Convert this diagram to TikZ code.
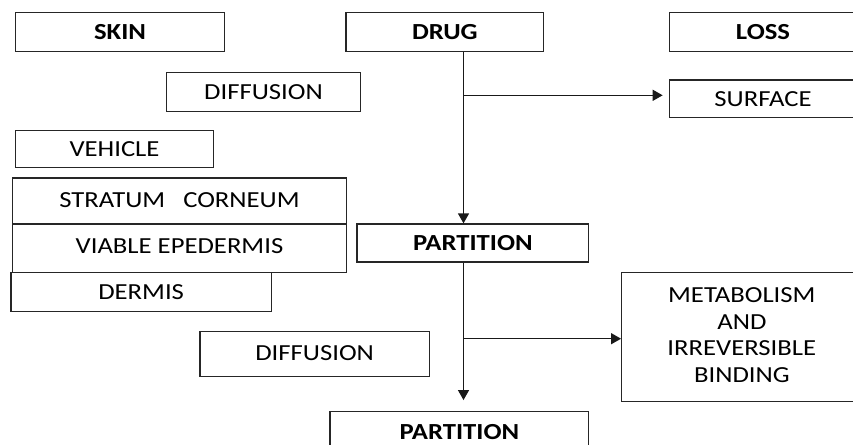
\documentclass[tikz,border=0pt]{standalone}
\usepackage{fontspec}
\setmainfont{Carlito}
\usetikzlibrary{arrows.meta}
\newcommand\wide[1]{\scalebox{1.16}[1]{#1}}
\begin{document}
\begin{tikzpicture}[x=1pt,y=-1pt,
  box/.style={draw=black!85, line width=1.3pt, inner sep=0pt, align=center,
    font=\fontsize{23}{26.5}\selectfont},
  arr/.style={-{Triangle[length=10pt,width=11pt]}, line width=1.4pt, draw=black!90}]
\useasboundingbox (0,0) rectangle (853,444);
\fill[white] (0,0) rectangle (853,444);
\clip (0,0) rectangle (853,444);
% left column
\node[box, minimum width=208.6pt, minimum height=39pt] (skin) at (120,32.2) {\wide{\textbf{SKIN}}};
\node[box, minimum width=194.4pt, minimum height=38.6pt] (diff1) at (263.5,92) {\wide{DIFFUSION}};
\node[box, minimum width=197.6pt, minimum height=37.4pt] (vehicle) at (114.5,149) {\wide{VEHICLE}};
\node[box, minimum width=333.6pt, minimum height=46pt] (stratum) at (179.5,201) {\raisebox{2pt}{\wide{STRATUM\ \ \ CORNEUM}}};
\node[box, minimum width=333.6pt, minimum height=48.7pt] (viable) at (179.5,248.35) {\raisebox{4pt}{\wide{VIABLE EPEDERMIS}}};
\node[box, minimum width=260.3pt, minimum height=39pt] (dermis) at (141.15,292.2) {\raisebox{-2pt}{\wide{DERMIS}}};
\node[box, minimum width=229.3pt, minimum height=45pt] (diff2) at (314.65,354.2) {\raisebox{2pt}{\wide{DIFFUSION}}};
% centre column
\node[box, minimum width=197.7pt, minimum height=39pt] (drug) at (444.85,32.2) {\wide{\textbf{DRUG}}};
\node[box, minimum width=231.7pt, minimum height=38pt] (part1) at (472.85,243) {\wide{\textbf{PARTITION}}};
\node[box, minimum width=258.7pt, minimum height=40.3pt] (part2) at (459.35,431.85) {\wide{\textbf{PARTITION}}};
% right column
\node[box, minimum width=187.4pt, minimum height=39pt] (loss) at (763,32.2) {\wide{\textbf{LOSS}}};
\node[box, minimum width=187.4pt, minimum height=37.7pt] (surface) at (763,98.85) {\wide{SURFACE}};
\node[box, minimum width=240.3pt, minimum height=129pt] (metab) at (741.85,337.2)
  {\raisebox{3pt}{\wide{\begin{tabular}{@{}c@{}}METABOLISM\\AND\\IRREVERSIBLE\\BINDING\end{tabular}}}};
% connectors
\coordinate (spine) at (463.5,0);
\coordinate (b1) at (463.5,95.3);
\coordinate (b2) at (463.5,338.7);
\draw[arr] (spine |- drug.south) -- (spine |- part1.north);
\draw[arr, shorten >=6pt] (b1) -- (b1 -| surface.west);
\draw[arr, shorten >=11pt] (spine |- part1.south) -- (spine |- part2.north);
\draw[arr] (b2) -- (b2 -| metab.west);
\end{tikzpicture}
\end{document}
